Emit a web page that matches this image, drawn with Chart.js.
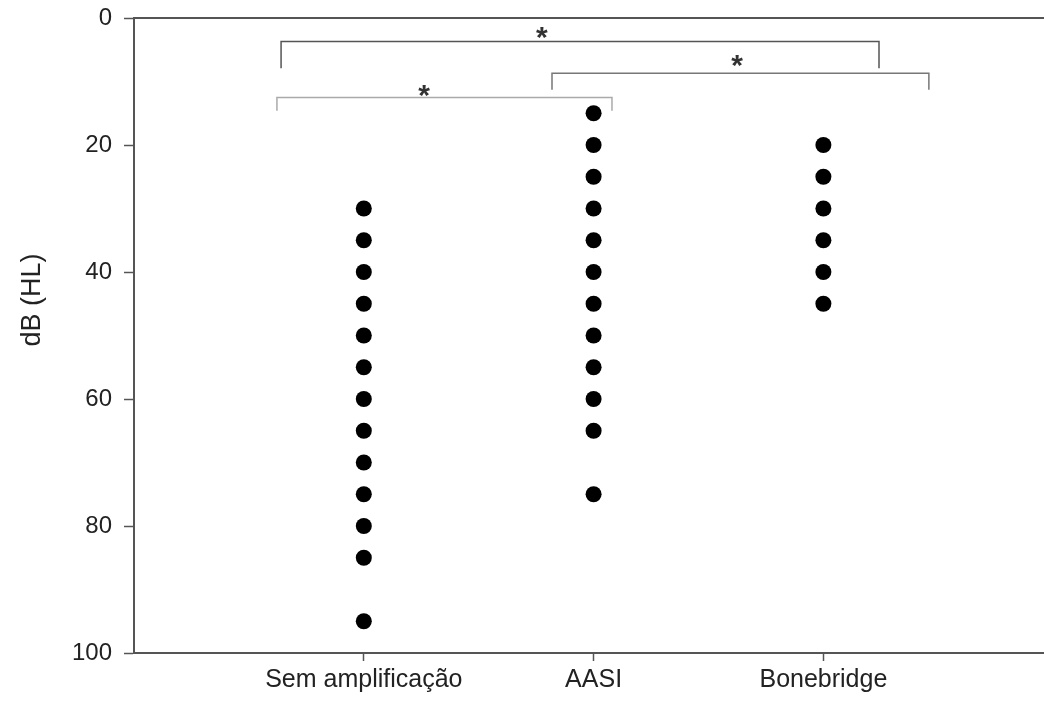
<!DOCTYPE html>
<html>
<head>
<meta charset="UTF-8" />
<script src="https://cdn.jsdelivr.net/npm/chart.js@4.4.1/dist/chart.umd.min.js"></script>
<style>
  html, body { margin: 0; padding: 0; background: #fff; }
  #wrap { width: 1044px; height: 703px; }
</style>
</head>
<body>
<div id="wrap"><canvas id="c" width="1044" height="703"></canvas></div>
<script>
// grupos e limiares (dB HL)
const categories = ["Sem amplificação", "AASI", "Bonebridge"];
const semAmplificacao = [30, 35, 40, 45, 50, 55, 60, 65, 70, 75, 80, 85, 95];
const aasi = [15, 20, 25, 30, 35, 40, 45, 50, 55, 60, 65, 75];
const bonebridge = [20, 25, 30, 35, 40, 45];
const yTicks = [0, 20, 40, 60, 80, 100];
const yTitle = "dB (HL)";

// colchetes de significância: início, fim (eixo x), nível e ponta (eixo y)
const bracketFrom = [0.640, 1.819, 0.622];
const bracketTo = [3.242, 3.459, 2.080];
const bracketLevel = [3.7, 8.7, 12.5];
const bracketEnd = [7.9, 11.3, 14.6];
const starX = [1.775, 2.624, 1.262];
const starY = [1.9, 6.3, 11.0];
const bracketColors = ["#555", "#777", "#aaa"];

const FONT = "'Liberation Sans', Arial, sans-serif";

function groupPoints(values, pos) {
  return values.map((v) => ({ x: pos, y: v }));
}

const datasets = [
  { data: groupPoints(semAmplificacao, 1) },
  { data: groupPoints(aasi, 2) },
  { data: groupPoints(bonebridge, 3) },
].map((d) => ({ ...d, pointRadius: 8, pointHoverRadius: 8, backgroundColor: "#000", borderColor: "#000", borderWidth: 0 }));

bracketFrom.forEach((from, i) => {
  datasets.push({
    data: [
      { x: from, y: bracketEnd[i] },
      { x: from, y: bracketLevel[i] },
      { x: bracketTo[i], y: bracketLevel[i] },
      { x: bracketTo[i], y: bracketEnd[i] },
    ],
    showLine: true,
    pointRadius: 0,
    borderColor: bracketColors[i],
    borderWidth: 1.5,
    fill: false,
  });
});

const extras = {
  id: "extras",
  afterDraw(chart) {
    const { ctx, chartArea, scales } = chart;
    ctx.save();
    // moldura superior
    ctx.strokeStyle = "#555";
    ctx.lineWidth = 2;
    ctx.beginPath();
    ctx.moveTo(chartArea.left, chartArea.top);
    ctx.lineTo(chartArea.right, chartArea.top);
    ctx.stroke();
    // asteriscos (centro do glifo ~0.57em acima da linha de base)
    const size = 30;
    ctx.fillStyle = "#333";
    ctx.font = "bold " + size + "px " + FONT;
    ctx.textAlign = "center";
    ctx.textBaseline = "alphabetic";
    starX.forEach((x, i) => {
      ctx.fillText("*", scales.x.getPixelForValue(x), scales.y.getPixelForValue(starY[i]) + 0.57 * size);
    });
    ctx.restore();

    // título do eixo y
    ctx.save();
    ctx.font = "27px " + FONT;
    ctx.fillStyle = "#222";
    ctx.textAlign = "center";
    ctx.textBaseline = "alphabetic";
    ctx.translate(40, 300);
    ctx.rotate(-Math.PI / 2);
    ctx.fillText(yTitle, 0, 0);
    ctx.restore();
  },
};

new Chart(document.getElementById("c"), {
  type: "scatter",
  data: { datasets },
  plugins: [extras],
  options: {
    responsive: false,
    animation: false,
    layout: { autoPadding: false, padding: { top: 18, right: 0, left: 0, bottom: 0 } },
    plugins: { legend: { display: false }, tooltip: { enabled: false } },
    scales: {
      x: {
        type: "linear",
        min: 0,
        max: 3.96,
        afterBuildTicks: (s) => { s.ticks = [1, 2, 3].map((v) => ({ value: v })); },
        afterFit: (s) => { s.height = 50; s.paddingLeft = 0; s.paddingRight = 0; },
        ticks: {
          callback: (v) => categories[v - 1],
          font: { family: FONT, size: 25 },
          color: "#222",
          padding: 4,
          maxRotation: 0,
        },
        grid: { drawOnChartArea: false, tickLength: 8, tickColor: "#555", tickWidth: 1.5 },
        border: { color: "#555", width: 2 },
      },
      y: {
        reverse: true,
        min: 0,
        max: 100,
        afterBuildTicks: (s) => { s.ticks = yTicks.map((v) => ({ value: v })); },
        afterFit: (s) => { s.width = 134; s.paddingTop = 0; s.paddingBottom = 0; },
        ticks: {
          font: { family: FONT, size: 24 },
          color: "#222",
          padding: 12,
        },
        grid: { drawOnChartArea: false, tickLength: 10, tickColor: "#555", tickWidth: 1.5 },
        border: { color: "#555", width: 2 },
      },
    },
  },
});
</script>
</body>
</html>
